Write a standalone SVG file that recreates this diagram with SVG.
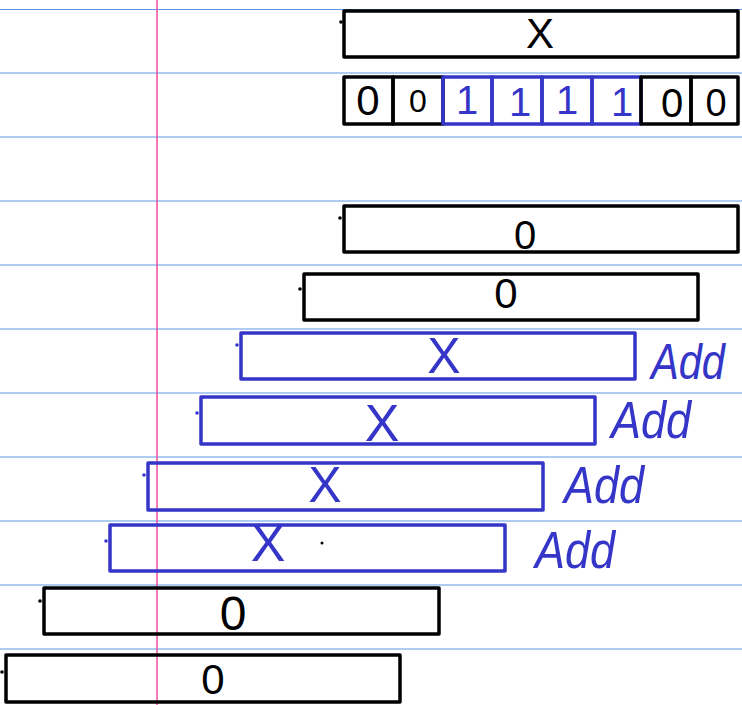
<svg xmlns="http://www.w3.org/2000/svg" width="742" height="705" viewBox="0 0 742 705">
<style>
.rule{stroke:#5f97e6;stroke-width:1.2}
.margin{stroke:#ee4d9c;stroke-width:1.5}
.bk{fill:none;stroke:#000;stroke-width:3.5;stroke-linejoin:round}
.bl{fill:none;stroke:#3535c8;stroke-width:3.5;stroke-linejoin:round}
.tk{fill:#000}
.tb{fill:#3535c8}
.t{font-family:"Liberation Sans","DejaVu Sans",sans-serif;text-anchor:middle}
.add{font-family:"Liberation Sans","DejaVu Sans",sans-serif;font-style:italic;fill:#3535c8}
</style>
<rect width="742" height="705" fill="#fff"/>
<g id="paper">
<line class="rule" x1="0" y1="9.5" x2="742" y2="9.5"/>
<line class="rule" x1="0" y1="73" x2="742" y2="73"/>
<line class="rule" x1="0" y1="137" x2="742" y2="137"/>
<line class="rule" x1="0" y1="201" x2="742" y2="201"/>
<line class="rule" x1="0" y1="265" x2="742" y2="265"/>
<line class="rule" x1="0" y1="329" x2="742" y2="329"/>
<line class="rule" x1="0" y1="393" x2="742" y2="393"/>
<line class="rule" x1="0" y1="457" x2="742" y2="457"/>
<line class="rule" x1="0" y1="521" x2="742" y2="521"/>
<line class="rule" x1="0" y1="585" x2="742" y2="585"/>
<line class="rule" x1="0" y1="649" x2="742" y2="649"/>
<line class="margin" x1="157" y1="0" x2="157" y2="705"/>
</g>
<g id="connectors"></g>
<g id="row1">
<rect class="bk" x="344" y="11" width="394" height="46"/>
<circle class="tk" cx="341" cy="22" r="1.8"/>
<text class="t" x="540" y="48" font-size="42">X</text>
</g>
<g id="row2">
<rect class="bk" x="344" y="77" width="49" height="47"/>
<rect class="bk" x="393" y="77" width="50" height="47"/>
<rect class="bl" x="443" y="77" width="49" height="47"/>
<rect class="bl" x="492" y="77" width="50" height="47"/>
<rect class="bl" x="542" y="77" width="50" height="47"/>
<rect class="bl" x="592" y="77" width="49" height="47"/>
<rect class="bk" x="641" y="77" width="50" height="47"/>
<rect class="bk" x="691" y="77" width="47" height="47"/>
<text class="t" x="368" y="115" font-size="42">0</text>
<text class="t" x="418" y="112" font-size="32">0</text>
<text class="t tb" x="467" y="114" font-size="40">1</text>
<text class="t tb" x="520" y="116" font-size="40">1</text>
<text class="t tb" x="567" y="114" font-size="40">1</text>
<text class="t tb" x="622" y="116" font-size="40">1</text>
<text class="t" x="672" y="117" font-size="40">0</text>
<text class="t" x="716" y="116" font-size="38">0</text>
</g>
<g id="row3">
<rect class="bk" x="344" y="206" width="394" height="46"/>
<circle class="tk" cx="340" cy="218" r="1.8"/>
<text class="t" x="525" y="249" font-size="40">0</text>
</g>
<g id="row4">
<rect class="bk" x="304" y="274" width="394" height="46"/>
<circle class="tk" cx="300" cy="289" r="1.8"/>
<text class="t" x="506" y="308" font-size="42">0</text>
</g>
<g id="row5">
<rect class="bl" x="241" y="333" width="394" height="46"/>
<circle class="tb" cx="237" cy="345" r="1.8"/>
<text class="t tb" x="444" y="373" font-size="50">X</text>
<text class="add" x="651" y="379" font-size="50" textLength="74" lengthAdjust="spacingAndGlyphs">Add</text>
</g>
<g id="row6">
<rect class="bl" x="201" y="397" width="394" height="47"/>
<circle class="tb" cx="197" cy="413" r="1.8"/>
<text class="t tb" x="382" y="441" font-size="52">X</text>
<text class="add" x="611" y="438" font-size="52" textLength="80" lengthAdjust="spacingAndGlyphs">Add</text>
</g>
<g id="row7">
<rect class="bl" x="148" y="463" width="395" height="47"/>
<circle class="tb" cx="144" cy="475" r="1.8"/>
<text class="t tb" x="325" y="502" font-size="50">X</text>
<text class="add" x="564" y="503" font-size="52" textLength="80" lengthAdjust="spacingAndGlyphs">Add</text>
</g>
<g id="row8">
<rect class="bl" x="110" y="525" width="395" height="46"/>
<circle class="tb" cx="106" cy="541" r="1.8"/>
<text class="t tb" x="268" y="561" font-size="52">X</text>
<circle class="tk" cx="322" cy="543" r="1.5"/>
<text class="add" x="535" y="568" font-size="52" textLength="80" lengthAdjust="spacingAndGlyphs">Add</text>
</g>
<g id="row9">
<rect class="bk" x="44" y="588" width="395" height="46"/>
<circle class="tk" cx="40" cy="601" r="1.8"/>
<text class="t" x="233" y="630" font-size="48">0</text>
</g>
<g id="row10">
<rect class="bk" x="6" y="655" width="394" height="47"/>
<circle class="tk" cx="2" cy="672" r="1.8"/>
<text class="t" x="213" y="694" font-size="42">0</text>
</g>
</svg>
